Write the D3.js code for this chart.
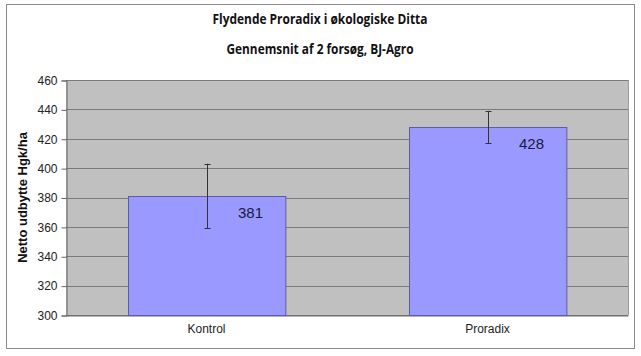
<!DOCTYPE html>
<html>
<head>
<meta charset="utf-8">
<script src="https://cdn.jsdelivr.net/npm/d3@7"></script>
<style>
  body { margin: 0; background: #fff; }
  svg { display: block; }
</style>
</head>
<body>
<script>
// chart data
var categories = ["Kontrol", "Proradix"];
var values = [381, 428];
var errLow = [359, 417];
var errHigh = [403, 439];
var yTicks = [300, 320, 340, 360, 380, 400, 420, 440, 460];
var titleLines = ["Flydende Proradix i økologiske Ditta", "Gennemsnit af 2 forsøg, BJ-Agro"];
var yTitle = "Netto udbytte Hgk/ha";

var width = 641, height = 356;
var plot = { left: 66, right: 628, top: 80, bottom: 315 };
var titleWidths = [215, 187];

var svg = d3.select("body").append("svg")
    .attr("width", width)
    .attr("height", height);

// outer frame
svg.append("rect")
    .attr("x", 6.5).attr("y", 4.5)
    .attr("width", 628).attr("height", 344)
    .attr("fill", "#fff")
    .attr("stroke", "#8a8a8a");

// titles (squeezed a bit to look like the narrow original font)
svg.selectAll(".title")
    .data(titleLines)
    .enter().append("text")
    .attr("class", "title")
    .attr("x", 320)
    .attr("y", function(d, i) { return 24 + i * 30; })
    .attr("text-anchor", "middle")
    .attr("textLength", function(d, i) { return titleWidths[i]; })
    .attr("lengthAdjust", "spacingAndGlyphs")
    .style("font-family", "'Open Sans', sans-serif")
    .style("font-size", "13.5px")
    .style("font-weight", 700)
    .attr("fill", "#111")
    .text(function(d) { return d; });

var x = d3.scaleBand()
    .domain(categories)
    .range([plot.left, plot.right])
    .paddingInner(0.44)
    .paddingOuter(0.22);

var y = d3.scaleLinear()
    .domain([300, 460])
    .range([plot.bottom, plot.top]);

// plot background
svg.append("rect")
    .attr("x", plot.left).attr("y", plot.top)
    .attr("width", plot.right - plot.left)
    .attr("height", plot.bottom - plot.top)
    .attr("fill", "#c0c0c0");

// gridlines
svg.append("g")
    .selectAll("line")
    .data(yTicks)
    .enter().append("line")
    .attr("x1", plot.left).attr("x2", plot.right)
    .attr("y1", function(d) { return Math.round(y(d)) + 0.5; })
    .attr("y2", function(d) { return Math.round(y(d)) + 0.5; })
    .attr("stroke", "#7a7a7a");

// right edge of plot
svg.append("line")
    .attr("x1", plot.right + 0.5).attr("x2", plot.right + 0.5)
    .attr("y1", plot.top).attr("y2", plot.bottom)
    .attr("stroke", "#9a9a9a");

// y axis
var yAxis = svg.append("g")
    .attr("transform", "translate(" + (plot.left + 0.5) + ",0.5)")
    .call(d3.axisLeft(y).tickValues(yTicks).tickSize(5).tickPadding(4).tickFormat(d3.format("d")));
yAxis.selectAll("path, line").attr("stroke", "#666");
yAxis.selectAll("text")
    .style("font-family", "'Liberation Sans', Arial, sans-serif")
    .style("font-size", "12px")
    .attr("fill", "#222");

// x axis
var xAxis = svg.append("g")
    .attr("transform", "translate(0," + (plot.bottom + 0.5) + ")")
    .call(d3.axisBottom(x).tickSize(0).tickPadding(9));
xAxis.select(".domain").attr("stroke", "#666");
xAxis.selectAll("text")
    .style("font-family", "'Liberation Sans', Arial, sans-serif")
    .style("font-size", "12px")
    .attr("fill", "#222");

// y title
svg.append("text")
    .attr("transform", "translate(27," + ((plot.top + plot.bottom) / 2) + ") rotate(-90)")
    .attr("text-anchor", "middle")
    .style("font-family", "'Liberation Sans', Arial, sans-serif")
    .style("font-size", "13px")
    .style("font-weight", "bold")
    .attr("fill", "#111")
    .text(yTitle);

// bars
svg.selectAll(".bar")
    .data(values)
    .enter().append("rect")
    .attr("class", "bar")
    .attr("x", function(d, i) { return Math.round(x(categories[i])) + 0.5; })
    .attr("y", function(d) { return Math.round(y(d)) + 0.5; })
    .attr("width", x.bandwidth())
    .attr("height", function(d) { return plot.bottom - Math.round(y(d)); })
    .attr("fill", "#9999ff")
    .attr("stroke", "#5c5ca8");

// error bars
var err = svg.append("g").selectAll("g")
    .data(values)
    .enter().append("g")
    .attr("stroke", "#333");
err.append("line")
    .attr("x1", function(d, i) { return Math.round(x(categories[i]) + x.bandwidth() / 2) + 0.5; })
    .attr("x2", function(d, i) { return Math.round(x(categories[i]) + x.bandwidth() / 2) + 0.5; })
    .attr("y1", function(d, i) { return y(errHigh[i]); })
    .attr("y2", function(d, i) { return y(errLow[i]); });
[errLow, errHigh].forEach(function(arr) {
    err.append("line")
        .attr("x1", function(d, i) { return Math.round(x(categories[i]) + x.bandwidth() / 2) - 2.5; })
        .attr("x2", function(d, i) { return Math.round(x(categories[i]) + x.bandwidth() / 2) + 3.5; })
        .attr("y1", function(d, i) { return Math.round(y(arr[i])) + 0.5; })
        .attr("y2", function(d, i) { return Math.round(y(arr[i])) + 0.5; });
});

// value labels
svg.selectAll(".label")
    .data(values)
    .enter().append("text")
    .attr("class", "label")
    .attr("x", function(d, i) { return x(categories[i]) + x.bandwidth() / 2 + 44; })
    .attr("y", function(d) { return y(d) + 22; })
    .attr("text-anchor", "middle")
    .style("font-family", "'Liberation Sans', Arial, sans-serif")
    .style("font-size", "15px")
    .attr("fill", "#1a1a3a")
    .text(function(d) { return d; });
</script>
</body>
</html>
